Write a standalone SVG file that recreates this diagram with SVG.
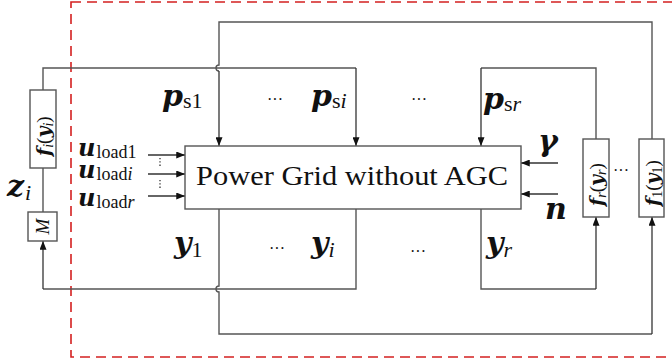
<svg xmlns="http://www.w3.org/2000/svg" width="672" height="364" viewBox="0 0 672 364">
<defs>
<marker id="ah" viewBox="0 0 10 8" refX="10" refY="4" markerWidth="9" markerHeight="7" markerUnits="userSpaceOnUse" orient="auto">
<path d="M0,0 L10,4 L0,8 z" fill="#111"/>
</marker>
<style>
.ln{fill:none;stroke:#555;stroke-width:1.4}
.ar{fill:none;stroke:#333;stroke-width:1.3;marker-end:url(#ah)}
.box{fill:#fff;stroke:#555;stroke-width:1.4}
.red{fill:none;stroke:#d42020;stroke-width:1.6;stroke-dasharray:10 6}
.t{fill:#111;font-family:"Liberation Serif","Times New Roman",serif}
.mb{font-weight:bold;font-style:italic;font-family:"DejaVu Serif",serif}
.it{font-style:italic}
.m{font-size:30px}
.u{font-size:24px}
.s{font-size:22px}
.su{font-size:18px}
.r{font-size:19px}
.rs{font-size:14px}
.dots{font-size:16px}
</style>
</defs>
<rect class="red" x="71" y="2" width="640" height="355"/>
<g id="connectors">
<path class="ln" d="M652,139 V22 H219 V65 A3,3 0 0 0 219,71"/>
<path class="ar" d="M219,71 V146"/>
<path class="ln" d="M43,90 V68 H356"/>
<path class="ar" d="M356,68 V146"/>
<path class="ln" d="M596,139 V68 H481"/>
<path class="ar" d="M481,68 V146"/>
<path class="ln" d="M356,209 V289 H43"/>
<path class="ar" d="M43,289 V241"/>
<path class="ln" d="M43,168 V212"/>
<path class="ln" d="M219,209 V286 A3,3 0 0 0 219,292 V334 H652"/>
<path class="ar" d="M652,334 V217"/>
<path class="ln" d="M481,209 V289 H596"/>
<path class="ar" d="M596,289 V217"/>
<path class="ar" d="M148,155 H185"/>
<path class="ar" d="M148,174 H185"/>
<path class="ar" d="M148,196 H185"/>
<path class="ar" d="M558,163 H521"/>
<path class="ar" d="M558,194 H521"/>
<path d="M160,158 V168 M160,180 V190" stroke="#333" stroke-width="1.3" stroke-dasharray="1.3 2" fill="none"/>
</g>
<g id="grid">
<rect class="box" x="185" y="146" width="336" height="63"/>
<text class="t" x="352" y="185" font-size="27" text-anchor="middle" textLength="312" lengthAdjust="spacingAndGlyphs">Power Grid without AGC</text>
</g>
<g id="fi">
<rect class="box" x="30" y="90" width="26" height="78"/>
<text class="t r" transform="translate(50,156) rotate(-90)"><tspan class="mb">f</tspan><tspan class="rs it" dy="3">i</tspan><tspan dy="-3">(</tspan><tspan class="mb">y</tspan><tspan class="rs it" dy="3">i</tspan><tspan dy="-3">)</tspan></text>
</g>
<g id="M">
<rect class="box" x="28" y="212" width="29" height="29"/>
<text class="t r it" transform="translate(49,226.5) rotate(-90)" text-anchor="middle">M</text>
</g>
<g id="fr">
<rect class="box" x="583" y="139" width="26" height="78"/>
<text class="t r" transform="translate(603,206) rotate(-90)"><tspan class="mb">f</tspan><tspan class="rs it" dy="3">r</tspan><tspan dy="-3">(</tspan><tspan class="mb">y</tspan><tspan class="rs it" dy="3">r</tspan><tspan dy="-3">)</tspan></text>
</g>
<g id="f1">
<rect class="box" x="639" y="139" width="25" height="78"/>
<text class="t r" transform="translate(659,206) rotate(-90)"><tspan class="mb">f</tspan><tspan class="rs" dy="3">1</tspan><tspan dy="-3">(</tspan><tspan class="mb">y</tspan><tspan class="rs" dy="3">1</tspan><tspan dy="-3">)</tspan></text>
</g>
<g id="labels">
<text class="t m" x="162" y="106"><tspan class="mb">p</tspan><tspan class="s" dy="2">s1</tspan></text>
<text class="t m" x="311" y="106"><tspan class="mb">p</tspan><tspan class="s" dy="2">s</tspan><tspan class="s it">i</tspan></text>
<text class="t m" x="483" y="109"><tspan class="mb">p</tspan><tspan class="s" dy="2">s</tspan><tspan class="s it">r</tspan></text>
<text class="t dots" x="275" y="105" text-anchor="middle">···</text>
<text class="t dots" x="419" y="105" text-anchor="middle">···</text>
<text class="t m mb" x="538" y="151">γ</text>
<text class="t m mb" x="545" y="219">n</text>
<text class="t m" x="174" y="253"><tspan class="mb">y</tspan><tspan class="s" dy="4">1</tspan></text>
<text class="t m" x="311" y="253"><tspan class="mb">y</tspan><tspan class="s it" dy="4">i</tspan></text>
<text class="t m" x="486" y="253"><tspan class="mb">y</tspan><tspan class="s it" dy="4">r</tspan></text>
<text class="t dots" x="277" y="254" text-anchor="middle">···</text>
<text class="t dots" x="418" y="257" text-anchor="middle">···</text>
<text class="t dots" x="621" y="176" text-anchor="middle">···</text>
<text class="t m" x="7" y="196"><tspan class="mb">z</tspan><tspan class="s it" dy="4" dx="1">i</tspan></text>
<text class="t u" x="78" y="156"><tspan class="mb">u</tspan><tspan class="su" dy="2" dx="1">load1</tspan></text>
<text class="t u" x="78" y="178"><tspan class="mb">u</tspan><tspan class="su" dy="2" dx="1">load</tspan><tspan class="su it">i</tspan></text>
<text class="t u" x="78" y="206"><tspan class="mb">u</tspan><tspan class="su" dy="2" dx="1">load</tspan><tspan class="su it">r</tspan></text>
</g>
</svg>
